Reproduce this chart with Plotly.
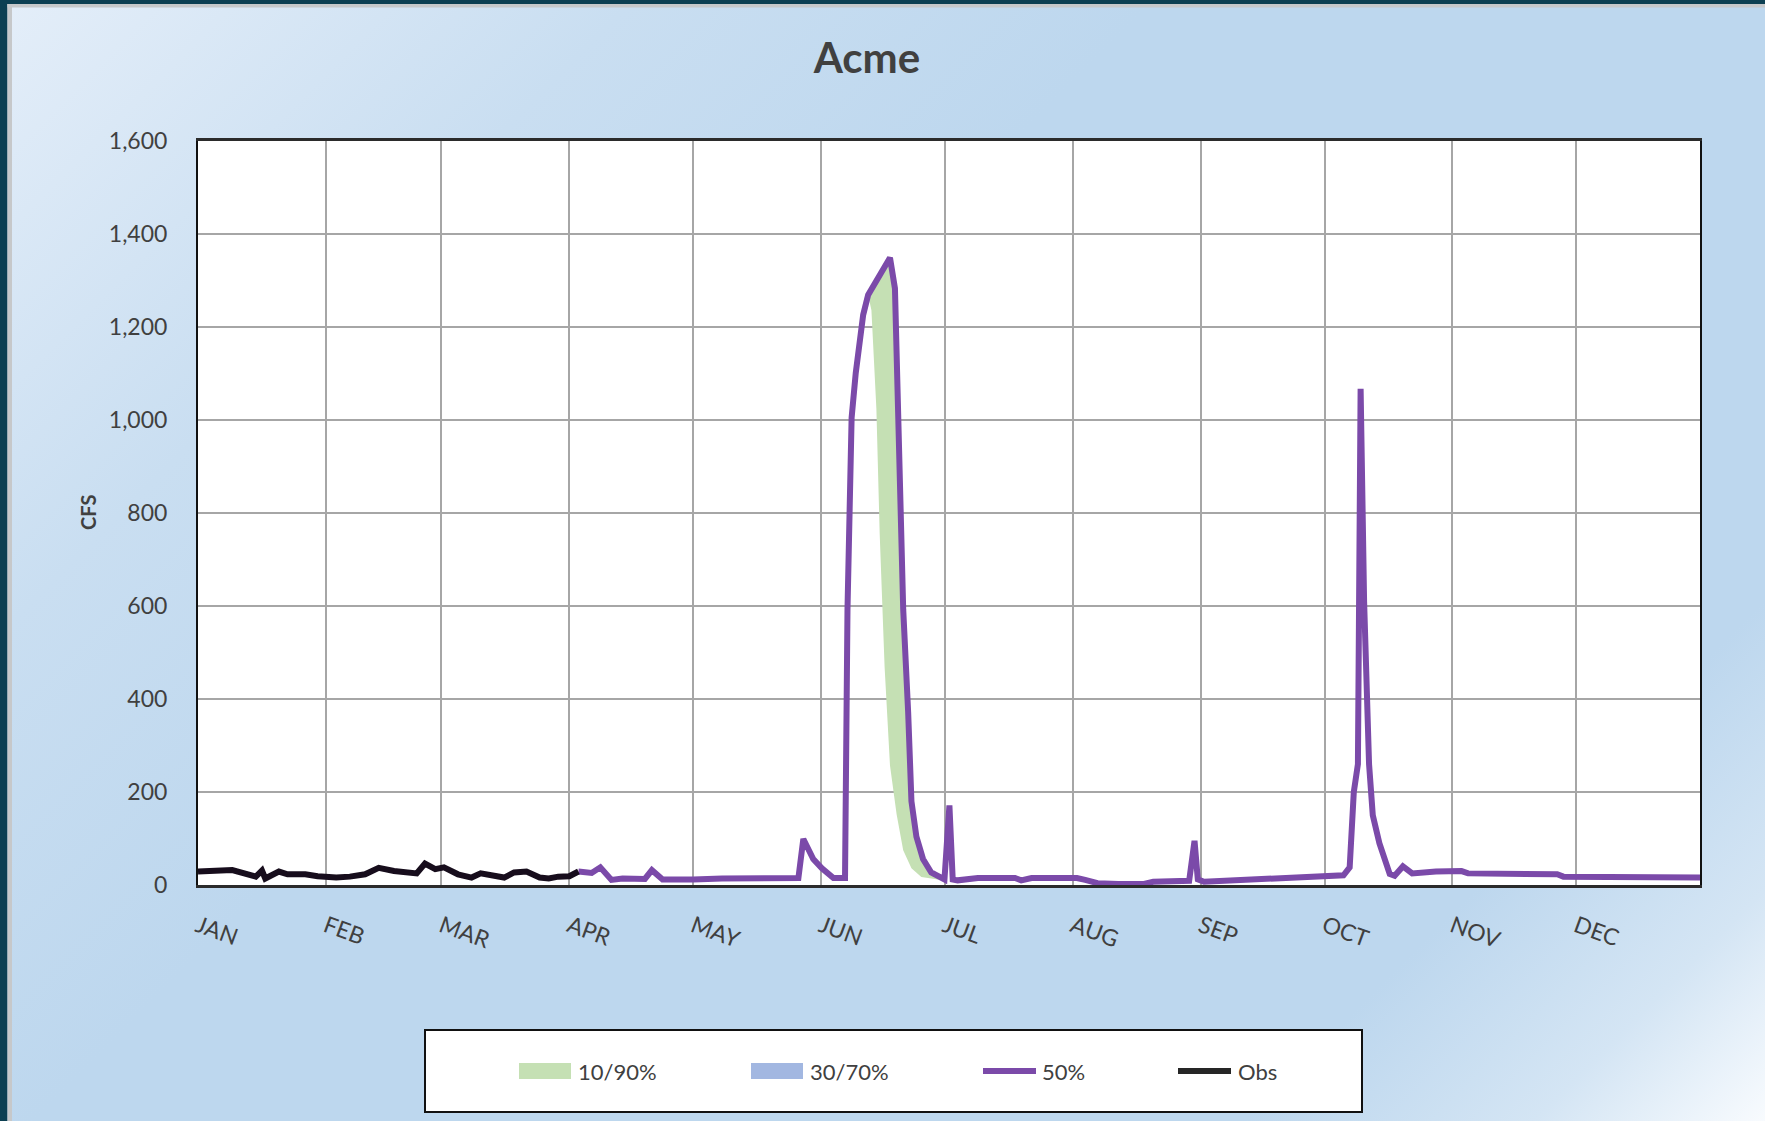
import base64
import plotly.graph_objects as go

# ---------------- data ----------------
month_labels = ["JAN", "FEB", "MAR", "APR", "MAY", "JUN", "JUL", "AUG", "SEP", "OCT", "NOV", "DEC"]
month_start_day = [0, 31, 59, 90, 120, 151, 181, 212, 243, 273, 304, 334]
y_tick_vals = [0, 200, 400, 600, 800, 1000, 1200, 1400, 1600]
y_tick_text = ["0", "200", "400", "600", "800", "1,000", "1,200", "1,400", "1,600"]

# Observed flow (day of year, cfs)
obs_day = [0, 6.7, 8.3, 14, 15.5, 16.3, 19.6, 21.7, 26, 29, 33.5, 36.8, 40.5, 43.8, 47.5,
           53, 55, 57.5, 59.6, 63, 66.3, 68.5, 71.7, 74.2, 76.6, 79.6, 82.8, 85, 87.3, 90, 92.2]
obs_cfs = [29, 29, 32, 18, 31, 14, 29, 23, 23, 19, 16, 18, 23, 37, 30,
           25, 46, 34, 38, 23, 16, 25, 21, 16, 27, 29, 16, 14, 18, 19, 29]

# 50% exceedance forecast
p50_day = [92.2, 95.4, 97.5, 100.2, 102.9, 108.3, 110, 112.6, 120, 127, 145.5, 146.7, 149.1,
           151.2, 154, 156.8, 157.4, 158.4, 159.4, 161.2, 162.4, 164, 167.7, 168.9, 169.7,
           170.9, 172.1, 172.9, 174.1, 175.7, 177.7, 180.9, 182.1, 182.9, 184.1, 189, 198,
           199.5, 202, 213, 215, 218, 223, 229, 231.5, 240.2, 241.5, 242.3, 243.8, 254,
           264.4, 271.7, 277.6, 279.1, 280.1, 281.1, 281.75, 282.6, 283.8, 284.7, 286.3,
           288.8, 290, 292, 294.25, 300, 306.2, 307.8, 329.4, 330.9, 346.9, 348.5, 364]
p50_cfs = [29, 26, 38, 11, 14, 13, 32, 12, 12, 14, 15, 99, 56,
           36, 15, 15, 593, 1005, 1101, 1226, 1269, 1293, 1349, 1283, 996,
           593, 372, 180, 104, 56, 27, 12, 171, 12, 10, 15, 15,
           10, 15, 15, 11, 4, 2, 2, 7, 9, 95, 12, 7, 12,
           16, 19, 21, 38, 200, 260, 1067, 609, 260, 150, 90,
           24, 20, 40, 25, 29, 30, 25, 23, 18, 18, 16, 16]

# 10% / 90% band (only distinguishable during the June peak)
p10_day = [162.4, 163.2, 164.4, 165.2, 166.4, 167.7, 169.3, 170.9, 172.9, 175.3, 179.3, 180.9]
p10_cfs = [1269, 1236, 1024, 756, 468, 257, 152, 75, 36, 17, 12, 12]
p90_day = [162.4, 164.0, 167.7, 168.9, 169.7, 170.9, 172.1, 172.9, 174.1, 175.7, 177.7, 180.9]
p90_cfs = [1269, 1293, 1349, 1283, 996, 593, 372, 180, 104, 56, 27, 12]

# 30% / 70% band (very narrow, around the October peak)
p30_day = [279.1, 280.1, 281.1, 281.75, 282.6, 283.8, 284.7]
p30_cfs = [36, 192, 250, 1030, 590, 252, 146]
p70_day = [279.1, 280.1, 281.1, 281.75, 282.6, 283.8, 284.7]
p70_cfs = [38, 200, 260, 1067, 609, 260, 150]

legend_names = ["10/90%", "30/70%", "50%", "Obs"]

# ---------------- styling / layout ----------------
W, H = 1765, 1121
L, R, T, B = 198, 65, 141, 236
PW, PH = W - L - R, H - T - B

def px(x):
    return (x - L) / PW

def py(y):
    return (H - B - y) / PH

GREEN = "#c5e0b4"
BLUE = "#a2b7e1"
PURPLE = "#7b4aa9"
OBS = "#170d1c"
TXT = "#404040"
FONT = "Lato"

fig = go.Figure()

fig.add_trace(go.Scatter(
    x=p90_day + p10_day[::-1], y=p90_cfs + p10_cfs[::-1],
    mode="lines", fill="toself", fillcolor=GREEN, line=dict(width=0, color=GREEN),
    name=legend_names[0], showlegend=False, hoverinfo="skip"))
fig.add_trace(go.Scatter(
    x=p70_day + p30_day[::-1], y=p70_cfs + p30_cfs[::-1],
    mode="lines", fill="toself", fillcolor=BLUE, line=dict(width=0, color=BLUE),
    name=legend_names[1], showlegend=False, hoverinfo="skip"))
fig.add_trace(go.Scatter(
    x=p50_day, y=p50_cfs, mode="lines", line=dict(color=PURPLE, width=6),
    name=legend_names[2], showlegend=False))
fig.add_trace(go.Scatter(
    x=obs_day, y=obs_cfs, mode="lines", line=dict(color=OBS, width=6),
    name=legend_names[3], showlegend=False))

# gradient background as an SVG image covering the whole page
svg = (
    f'<svg xmlns="http://www.w3.org/2000/svg" width="{W}" height="{H}" viewBox="0 0 {W} {H}" '
    'preserveAspectRatio="none"><defs>'
    '<linearGradient id="g" x1="0" y1="0" x2="1443" y2="1443" gradientUnits="userSpaceOnUse">'
    '<stop offset="0" stop-color="#e4eef9"/>'
    '<stop offset="0.22" stop-color="#c9def1"/>'
    '<stop offset="0.40" stop-color="#bdd7ee"/>'
    '<stop offset="0.82" stop-color="#bdd7ee"/>'
    '<stop offset="0.92" stop-color="#d4e5f4"/>'
    '<stop offset="1" stop-color="#f8fbfe"/>'
    '</linearGradient></defs>'
    f'<rect x="0" y="0" width="{W}" height="{H}" fill="url(#g)"/></svg>'
)
src = "data:image/svg+xml;base64," + base64.b64encode(svg.encode()).decode()
fig.add_layout_image(dict(
    source=src, xref="paper", yref="paper", x=px(0), y=py(0),
    sizex=W / PW, sizey=H / PH, xanchor="left", yanchor="top",
    sizing="stretch", layer="below"))

shapes = []
# white plot area
shapes.append(dict(type="rect", xref="paper", yref="paper", x0=0, x1=1, y0=0, y1=1,
                   fillcolor="white", line=dict(width=0), layer="below"))
# frame strips (dark teal + grey) on the left and top edges
shapes.append(dict(type="rect", xref="paper", yref="paper", x0=px(0), x1=px(7.5), y0=py(H), y1=py(0),
                   fillcolor="#0c3f52", line=dict(width=0), layer="below"))
shapes.append(dict(type="rect", xref="paper", yref="paper", x0=px(7.5), x1=px(12), y0=py(H), y1=py(4),
                   fillcolor="#c6c8ca", line=dict(width=0), layer="below"))
shapes.append(dict(type="rect", xref="paper", yref="paper", x0=px(0), x1=px(W), y0=py(4), y1=py(0),
                   fillcolor="#0c3f52", line=dict(width=0), layer="below"))
shapes.append(dict(type="rect", xref="paper", yref="paper", x0=px(7.5), x1=px(W), y0=py(7.5), y1=py(4),
                   fillcolor="#c6c8ca", line=dict(width=0), layer="below"))

# legend box and swatches
shapes.append(dict(type="rect", xref="paper", yref="paper", x0=px(425), x1=px(1362), y0=py(1112), y1=py(1030),
                   fillcolor="white", line=dict(color="#111111", width=2), layer="below"))
shapes.append(dict(type="rect", xref="paper", yref="paper", x0=px(519), x1=px(571), y0=py(1079), y1=py(1063),
                   fillcolor=GREEN, line=dict(width=0), layer="below"))
shapes.append(dict(type="rect", xref="paper", yref="paper", x0=px(751), x1=px(803), y0=py(1079), y1=py(1063),
                   fillcolor=BLUE, line=dict(width=0), layer="below"))
shapes.append(dict(type="line", xref="paper", yref="paper", x0=px(983), x1=px(1036), y0=py(1071), y1=py(1071),
                   line=dict(color=PURPLE, width=6), layer="below"))
shapes.append(dict(type="line", xref="paper", yref="paper", x0=px(1178), x1=px(1231), y0=py(1071), y1=py(1071),
                   line=dict(color="#262626", width=6), layer="below"))

annotations = [
    dict(text="<b>CFS</b>", xref="paper", yref="paper", x=px(88), y=py(513), textangle=-90,
         showarrow=False, xanchor="center", yanchor="middle", font=dict(family=FONT, size=20, color=TXT)),
]
for name, xpix in zip(legend_names, [576, 808, 1040, 1236]):
    annotations.append(dict(text=name, xref="paper", yref="paper", x=px(xpix), y=py(1071),
                            showarrow=False, xanchor="left", yanchor="middle",
                            font=dict(family=FONT, size=22, color=TXT)))

fig.update_layout(
    width=W, height=H,
    margin=dict(l=L, r=R, t=T, b=B, pad=0),
    paper_bgcolor="#bdd7ee", plot_bgcolor="white",
    showlegend=False,
    title=dict(text="<b>Acme</b>", x=867 / W, xanchor="center", xref="container",
               y=1 - 58 / H, yanchor="middle", yref="container",
               font=dict(family=FONT, size=42, color=TXT)),
    shapes=shapes, annotations=annotations,
    font=dict(family=FONT, color=TXT),
)
fig.update_xaxes(
    range=[0, 364], tickmode="array", tickvals=month_start_day, ticktext=month_labels,
    tickangle=20, tickfont=dict(family=FONT, size=23, color=TXT),
    showgrid=True, gridcolor="#a6a6a6", gridwidth=2,
    showline=True, linecolor="#2b2b2b", linewidth=3, mirror=True,
    ticks="", ticklabelstandoff=16, zeroline=False, fixedrange=True)
fig.update_yaxes(
    range=[0, 1600], tickmode="array", tickvals=y_tick_vals, ticktext=y_tick_text,
    tickfont=dict(family=FONT, size=23, color=TXT),
    showgrid=True, gridcolor="#a6a6a6", gridwidth=2,
    showline=True, linecolor="#111111", linewidth=2, mirror=True,
    ticks="", ticklabelstandoff=24, zeroline=False, fixedrange=True)

fig.write_html("out.html", config={"displayModeBar": False},
               post_script="document.body.style.margin='0';document.body.style.overflow='hidden';")
